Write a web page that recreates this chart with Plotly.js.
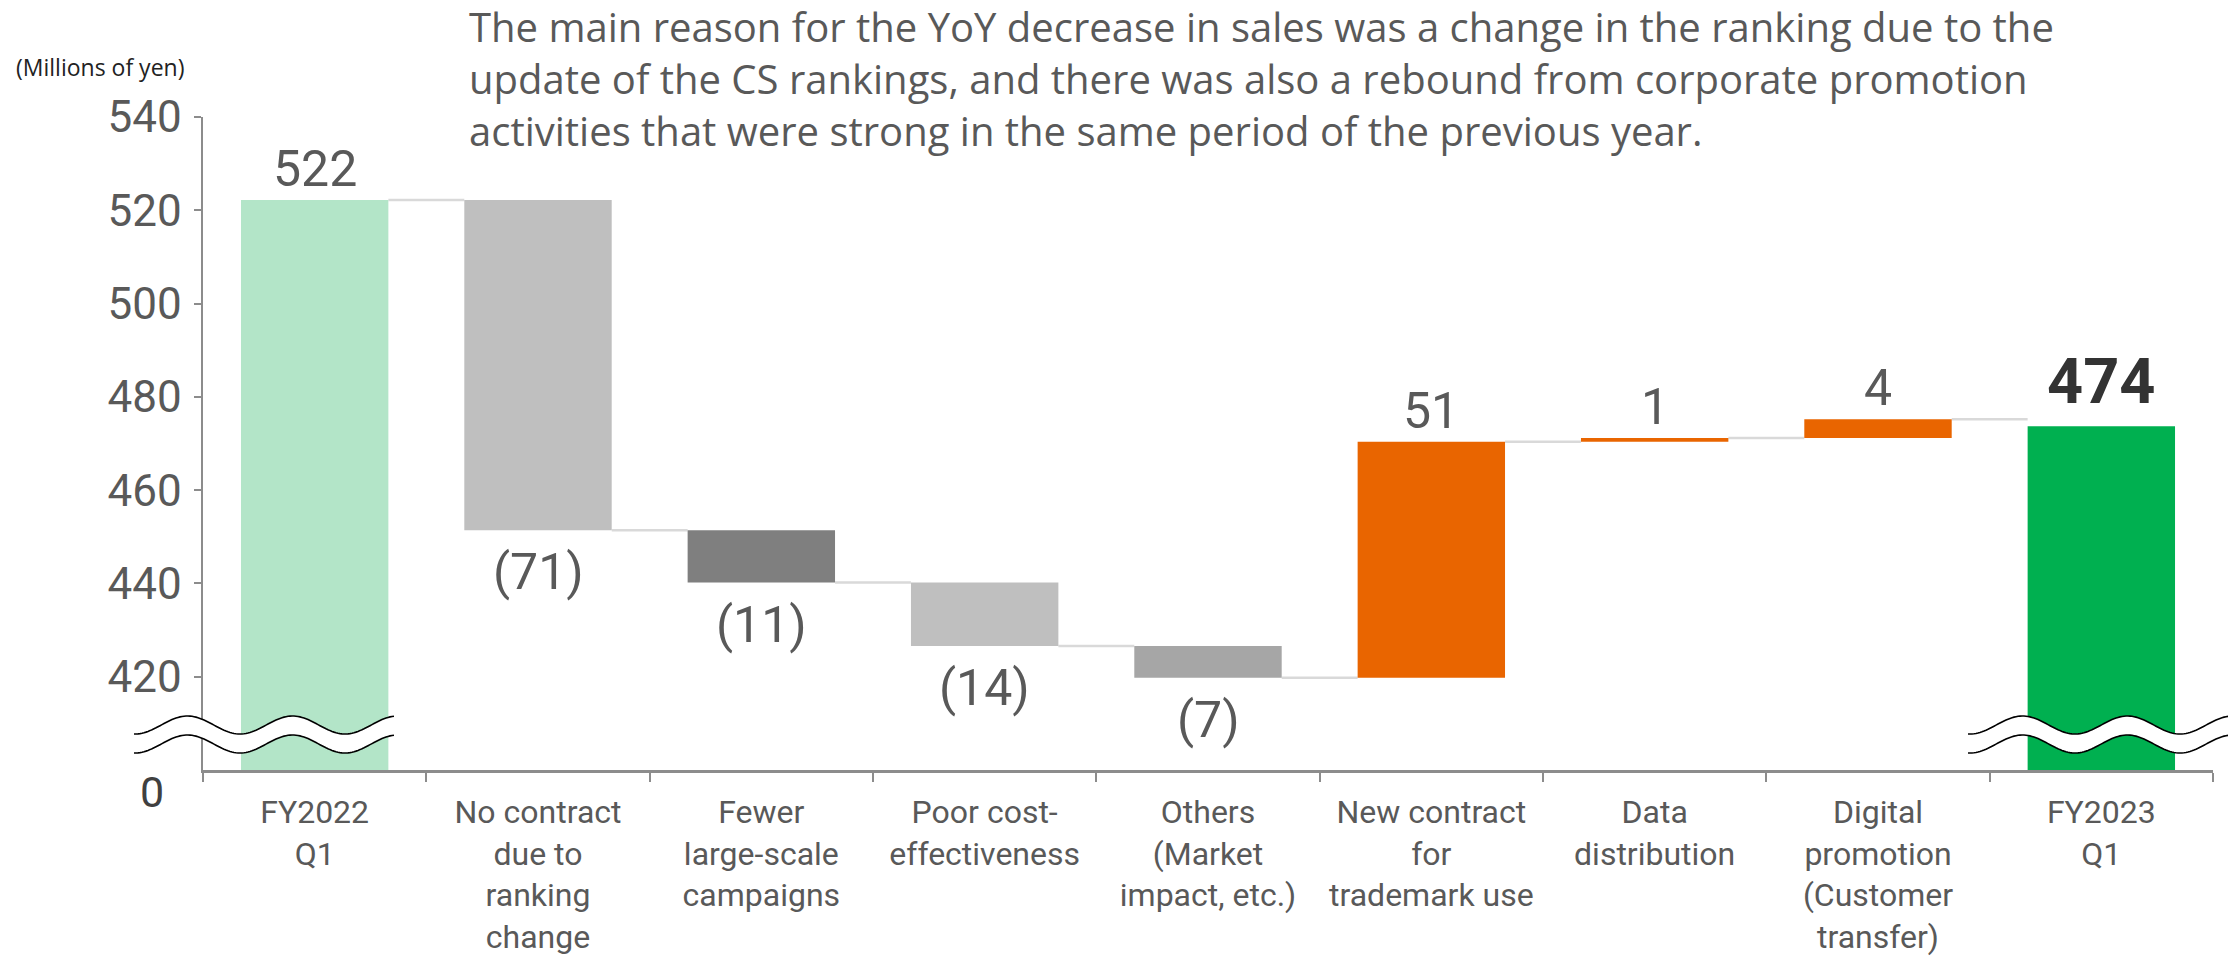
<!DOCTYPE html>
<html>
<head>
<meta charset="utf-8">
<script src="https://cdn.plot.ly/plotly-3.0.1.min.js"></script>
<style>html,body{margin:0;padding:0;background:#fff;}#chart{width:2228px;height:957px;}</style>
</head>
<body>
<div id="chart"></div>
<script>
// ---- data ----
const categories = [
  'FY2022<br>Q1',
  'No contract<br>due to<br>ranking<br>change',
  'Fewer<br>large-scale<br>campaigns',
  'Poor cost-<br>effectiveness',
  'Others<br>(Market<br>impact, etc.)',
  'New contract<br>for<br>trademark use',
  'Data<br>distribution',
  'Digital<br>promotion<br>(Customer<br>transfer)',
  'FY2023<br>Q1'
];
const measures = ['total','relative','relative','relative','relative','relative','relative','relative','total'];
const values = [522.2, -70.8, -11.2, -13.6, -6.8, 50.6, 0.8, 4.0, 473.7];
const barColors = ['#b3e5c8','#bfbfbf','#7f7f7f','#bfbfbf','#a6a6a6','#e96500','#e96500','#e96500','#00b050'];
const yTickVals = [420, 440, 460, 480, 500, 520, 540];
const yTickText = ['420', '440', '460', '480', '500', '520', '540'];
const axisBreakValue = 400;   // value shown as "0" at the broken baseline
const unitLabel = '(Millions of yen)';
const titleText = 'The main reason for the YoY decrease in sales was a change in the ranking due to the<br>update of the CS rankings, and there was also a rebound from corporate promotion<br>activities that were strong in the same period of the previous year.';

// ---- layout constants ----
const W = 2228, H = 957;
const M = {l: 203, r: 15, t: 117, b: 187};
const plotW = W - M.l - M.r, plotH = H - M.t - M.b;
const BAR_W = 0.66;
const FONT = 'Roboto, "Noto Sans", sans-serif';
const FONT_TXT = '"Open Sans", "Noto Sans", sans-serif';
const px2x = px => (px - M.l) / plotW;
const py2y = py => (H - M.b - py) / plotH;

// ---- derived bars ----
const bases = [], heights = [], ends = [];
let level = 0;
values.forEach((v, i) => {
  if (measures[i] === 'total') {
    bases.push(axisBreakValue); heights.push(v - axisBreakValue); level = v;
  } else {
    bases.push(level); heights.push(v); level += v;
  }
  ends.push(level);
});

const barTrace = {
  type: 'bar',
  x: categories,
  y: heights,
  base: bases,
  width: BAR_W,
  marker: {color: barColors, line: {width: 0}},
  hoverinfo: 'skip',
  showlegend: false
};

// connectors
const shapes = [];
for (let i = 0; i < values.length - 1; i++) {
  shapes.push({
    type: 'line', xref: 'x', yref: 'y',
    x0: i + BAR_W / 2, x1: i + 1 - BAR_W / 2,
    y0: ends[i], y1: ends[i],
    line: {color: '#d9d9d9', width: 2.5},
    layer: 'below'
  });
}

// axis break symbols (decoration, pixel geometry)
function wave(x0, x1, phaseX, cy) {
  const pts = [];
  for (let x = x0; x <= x1; x += 2) {
    pts.push([x, cy + 9 * Math.cos(2 * Math.PI * (x - phaseX) / 105)]);
  }
  return pts;
}
function toPath(pts) {
  return pts.map((p, k) => (k ? 'L' : 'M') + px2x(p[0]).toFixed(5) + ',' + py2y(p[1]).toFixed(5)).join(' ');
}
function addBreak(x0, x1, phaseX) {
  const up = wave(x0, x1, phaseX, 725);
  const lo = wave(x0, x1, phaseX, 744);
  const fillPts = up.concat(lo.slice().reverse());
  shapes.push({type: 'path', xref: 'paper', yref: 'paper', path: toPath(fillPts) + ' Z',
    fillcolor: '#ffffff', line: {width: 0}, layer: 'above'});
  shapes.push({type: 'path', xref: 'paper', yref: 'paper', path: toPath(up),
    line: {color: '#000000', width: 1.6}, layer: 'above'});
  shapes.push({type: 'path', xref: 'paper', yref: 'paper', path: toPath(lo),
    line: {color: '#000000', width: 1.6}, layer: 'above'});
}
addBreak(134, 395, 240);
addBreak(1968, 2228, 2075);

// value labels
const annotations = [];
values.forEach((v, i) => {
  const last = i === values.length - 1;
  let txt, y, yanchor, yshift;
  if (measures[i] === 'total') {
    txt = String(Math.round(v)); y = ends[i]; yanchor = 'bottom'; yshift = last ? 6 : 0;
  } else if (v < 0) {
    txt = '(' + Math.round(-v) + ')'; y = ends[i]; yanchor = 'top'; yshift = -11;
  } else {
    txt = String(Math.round(v)); y = ends[i]; yanchor = 'bottom'; yshift = 0;
  }
  annotations.push({
    x: i, y: y, xref: 'x', yref: 'y', text: last ? '<b>' + txt + '</b>' : txt,
    showarrow: false, yanchor: yanchor, xanchor: 'center', yshift: yshift,
    font: {family: FONT, size: last ? 63 : 50, color: last ? '#333333' : '#595959'}
  });
});
annotations.push({
  x: px2x(152), y: py2y(792), xref: 'paper', yref: 'paper', text: '0',
  showarrow: false, xanchor: 'center', yanchor: 'middle',
  font: {family: FONT, size: 43, color: '#404040'}
});
annotations.push({
  x: px2x(14), y: py2y(67), xref: 'paper', yref: 'paper', text: unitLabel,
  showarrow: false, xanchor: 'left', yanchor: 'middle',
  font: {family: FONT_TXT, size: 23, color: '#222222'}
});

const layout = {
  width: W, height: H,
  margin: M,
  paper_bgcolor: '#ffffff', plot_bgcolor: '#ffffff',
  font: {family: FONT, color: '#595959'},
  title: {
    text: titleText,
    x: 469 / W, xref: 'container', xanchor: 'left',
    y: 1 - 42 / H, yref: 'container', yanchor: 'top',
    font: {family: FONT_TXT, size: 40, color: '#595959'}
  },
  bargap: 0.34,
  xaxis: {
    type: 'category', range: [-0.5, 8.5], tickson: 'boundaries',
    ticks: 'outside', ticklen: 9, tickwidth: 2, tickcolor: '#8c8c8c',
    showline: true, linecolor: '#8c8c8c', linewidth: 2.5,
    showgrid: false, zeroline: false, fixedrange: true,
    tickfont: {family: FONT, size: 32, color: '#595959'},
    ticklabelstandoff: 12
  },
  yaxis: {
    range: [400, 540], tickvals: yTickVals, ticktext: yTickText,
    ticks: 'outside', ticklen: 7, tickwidth: 2, tickcolor: '#8c8c8c',
    showline: true, linecolor: '#8c8c8c', linewidth: 2.5,
    showgrid: false, zeroline: false, fixedrange: true,
    tickfont: {family: FONT, size: 44, color: '#595959'},
    ticklabelstandoff: 3
  },
  shapes: shapes,
  annotations: annotations
};

Plotly.newPlot('chart', [barTrace], layout, {displayModeBar: false, staticPlot: true});
</script>
</body>
</html>
